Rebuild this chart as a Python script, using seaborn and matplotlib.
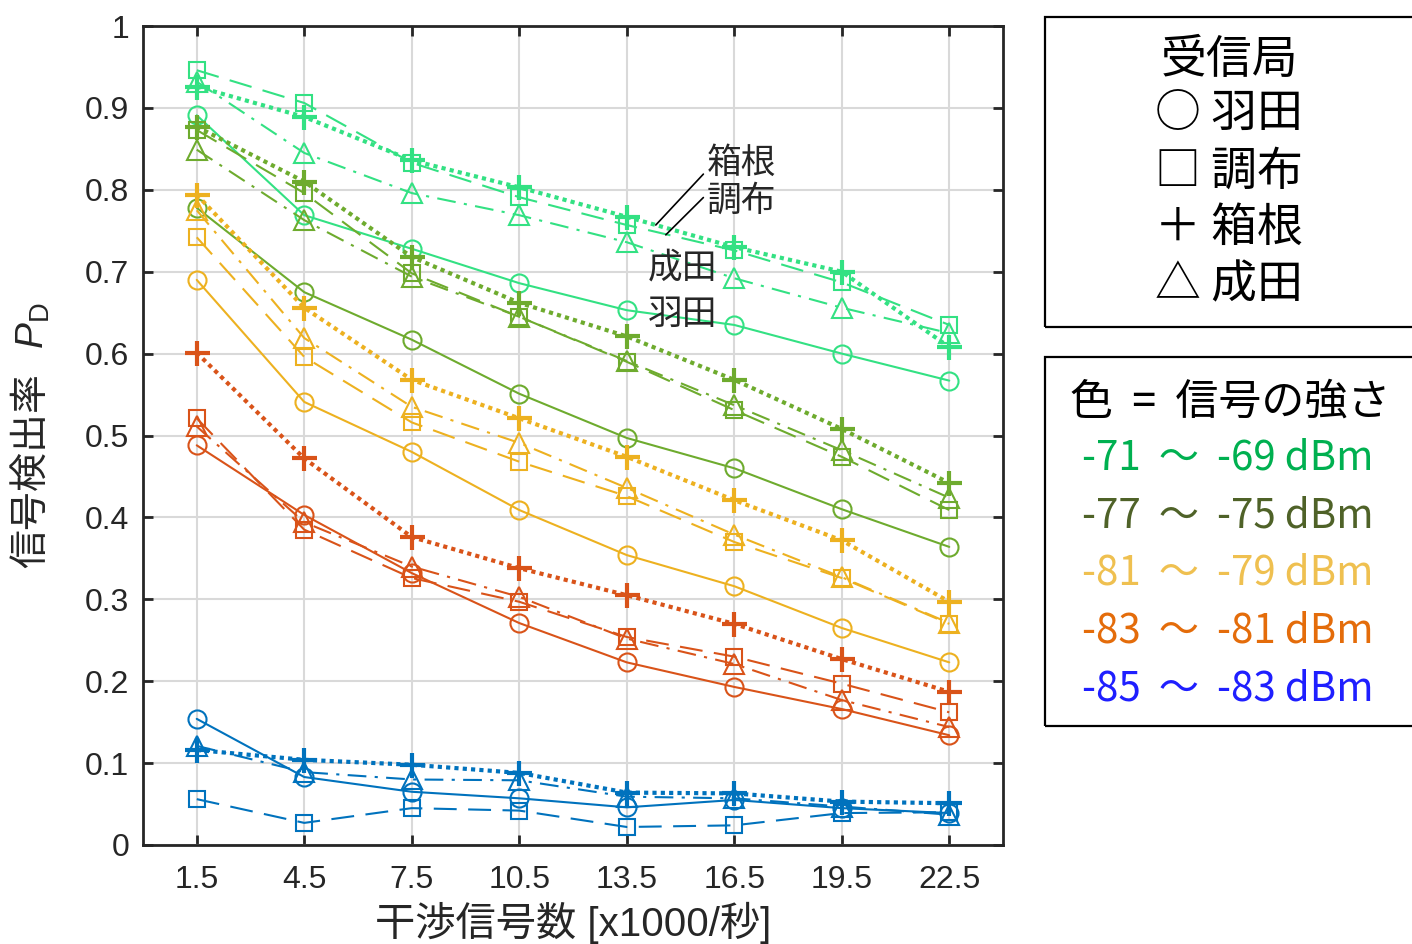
import numpy as np
import pandas as pd
import matplotlib
matplotlib.use("Agg")
import matplotlib.pyplot as plt
from matplotlib.patches import Rectangle
import seaborn as sns

# ---------------- data ----------------
x_vals = [1.5, 4.5, 7.5, 10.5, 13.5, 16.5, 19.5, 22.5]
x_ticklabels = ["1.5", "4.5", "7.5", "10.5", "13.5", "16.5", "19.5", "22.5"]
y_ticks = [0, 0.1, 0.2, 0.3, 0.4, 0.5, 0.6, 0.7, 0.8, 0.9, 1.0]
y_ticklabels = ["0", "0.1", "0.2", "0.3", "0.4", "0.5", "0.6", "0.7", "0.8", "0.9", "1"]

stations = ["羽田", "調布", "箱根", "成田"]
levels = ["-71 〜 -69 dBm", "-77 〜 -75 dBm", "-81 〜 -79 dBm", "-83 〜 -81 dBm", "-85 〜 -83 dBm"]

# level -71..-69
g71_haneda = [0.891, 0.769, 0.728, 0.686, 0.653, 0.635, 0.600, 0.567]
g71_chofu = [0.946, 0.906, 0.833, 0.791, 0.757, 0.726, 0.687, 0.635]
g71_hakone = [0.926, 0.889, 0.836, 0.803, 0.767, 0.730, 0.700, 0.608]
g71_narita = [0.932, 0.845, 0.796, 0.769, 0.736, 0.692, 0.656, 0.625]
# level -77..-75
g77_haneda = [0.778, 0.675, 0.617, 0.551, 0.497, 0.460, 0.410, 0.364]
g77_chofu = [0.873, 0.796, 0.698, 0.645, 0.590, 0.531, 0.474, 0.409]
g77_hakone = [0.877, 0.810, 0.718, 0.662, 0.621, 0.568, 0.508, 0.442]
g77_narita = [0.849, 0.763, 0.694, 0.645, 0.591, 0.537, 0.482, 0.424]
# level -81..-79
g81_haneda = [0.690, 0.541, 0.480, 0.409, 0.354, 0.316, 0.265, 0.223]
g81_chofu = [0.742, 0.596, 0.516, 0.468, 0.426, 0.370, 0.326, 0.270]
g81_hakone = [0.794, 0.656, 0.568, 0.521, 0.474, 0.421, 0.372, 0.297]
g81_narita = [0.775, 0.619, 0.535, 0.491, 0.436, 0.379, 0.327, 0.271]
# level -83..-81
g83_haneda = [0.488, 0.403, 0.332, 0.271, 0.223, 0.193, 0.166, 0.134]
g83_chofu = [0.521, 0.385, 0.326, 0.297, 0.254, 0.230, 0.197, 0.162]
g83_hakone = [0.601, 0.472, 0.376, 0.338, 0.305, 0.270, 0.227, 0.187]
g83_narita = [0.511, 0.394, 0.340, 0.303, 0.252, 0.221, 0.177, 0.144]
# level -85..-83
g85_haneda = [0.154, 0.083, 0.065, 0.057, 0.046, 0.055, 0.045, 0.039]
g85_chofu = [0.056, 0.027, 0.045, 0.042, 0.022, 0.024, 0.039, 0.040]
g85_hakone = [0.116, 0.104, 0.098, 0.088, 0.064, 0.063, 0.053, 0.051]
g85_narita = [0.121, 0.089, 0.080, 0.079, 0.059, 0.057, 0.047, 0.037]

series = {
    levels[0]: [g71_haneda, g71_chofu, g71_hakone, g71_narita],
    levels[1]: [g77_haneda, g77_chofu, g77_hakone, g77_narita],
    levels[2]: [g81_haneda, g81_chofu, g81_hakone, g81_narita],
    levels[3]: [g83_haneda, g83_chofu, g83_hakone, g83_narita],
    levels[4]: [g85_haneda, g85_chofu, g85_hakone, g85_narita],
}

rows = []
for lev, vals in series.items():
    for st, ys in zip(stations, vals):
        for xv, yv in zip(x_vals, ys):
            rows.append({"level": lev, "station": st, "x": xv, "y": yv})
df = pd.DataFrame(rows)

# ---------------- styles ----------------
line_colors = {
    levels[0]: "#33e183",
    levels[1]: "#6eab2e",
    levels[2]: "#edb120",
    levels[3]: "#d95319",
    levels[4]: "#0072bd",
}
legend_colors = ["#00b050", "#4f6228", "#efc050", "#e46c0a", "#1f1fff"]
st_marker = {"羽田": "o", "調布": "s", "箱根": "+", "成田": "^"}
st_ls = {"羽田": "-", "調布": (0, (11, 5.5)), "箱根": (0, (1, 1)), "成田": (0, (9, 4, 1.5, 4))}
st_lw = {"羽田": 1.5, "調布": 1.5, "箱根": 3.0, "成田": 1.5}
st_ms = {"羽田": 13, "調布": 12, "箱根": 18, "成田": 14}
st_mew = {"羽田": 1.5, "調布": 1.5, "箱根": 3.0, "成田": 1.5}

sns.set_theme(style="ticks")
plt.rcParams["font.family"] = ["Liberation Sans", "Noto Sans CJK JP", "DejaVu Sans"]
plt.rcParams["mathtext.fontset"] = "custom"
plt.rcParams["mathtext.rm"] = "Liberation Sans"
plt.rcParams["mathtext.it"] = "Liberation Sans:italic"

fig = plt.figure(figsize=(14.12, 9.44), dpi=100)
ax = fig.add_axes([143 / 1412, 1 - 845 / 944, 860 / 1412, 819 / 944])

for lev in levels:
    for st in stations:
        sub = df[(df["level"] == lev) & (df["station"] == st)]
        c = line_colors[lev]
        sns.lineplot(data=sub, x="x", y="y", ax=ax, color=c,
                     marker=st_marker[st], linestyle=st_ls[st], linewidth=st_lw[st],
                     markersize=st_ms[st], markeredgewidth=st_mew[st],
                     markeredgecolor=c, markerfacecolor="none",
                     errorbar=None, sort=True, legend=False)

ax.set_xlim(0, 24)
ax.set_ylim(0, 1)
ax.set_xticks(x_vals)
ax.set_xticklabels(x_ticklabels)
ax.set_yticks(y_ticks)
ax.set_yticklabels(y_ticklabels)
ax.grid(True, color="#d9d9d9", linewidth=1.5)
ax.set_axisbelow(True)
for sp in ax.spines.values():
    sp.set_visible(True)
    sp.set_linewidth(2.0)
    sp.set_color("#262626")
ax.tick_params(axis="both", direction="in", length=7, width=2.0, color="#262626",
               labelsize=23, labelcolor="#262626", top=True, right=True)
ax.tick_params(axis="x", pad=14.5)
ax.tick_params(axis="y", pad=10)

ax.set_xlabel("干渉信号数 [x1000/秒]", fontsize=29, color="#262626", labelpad=5,
              family=["Liberation Sans", "Noto Sans CJK JP"])
ax.set_ylabel("信号検出率   $P_{\\mathrm{D}}$", fontsize=28, color="#262626",
              family=["Noto Sans CJK JP", "Liberation Sans"])
ax.yaxis.set_label_coords(-0.105, 0.5)

# annotations inside the plot
cjk = ["Noto Sans CJK JP", "DejaVu Sans"]
ax.annotate("箱根", xy=(14.31, 0.757), xytext=(15.73, 0.832), fontsize=25, family=cjk,
            ha="left", va="center", arrowprops=dict(arrowstyle="-", color="black", lw=1.2,
                                                   shrinkA=0, shrinkB=0, relpos=(0, 0.3)))
ax.annotate("調布", xy=(14.59, 0.745), xytext=(15.73, 0.786), fontsize=25, family=cjk,
            ha="left", va="center", arrowprops=dict(arrowstyle="-", color="black", lw=1.2,
                                                   shrinkA=0, shrinkB=0, relpos=(0, 0.7)))
ax.text(14.1, 0.705, "成田", fontsize=25, family=cjk, ha="left", va="center")
ax.text(14.1, 0.648, "羽田", fontsize=25, family=cjk, ha="left", va="center")

# legend boxes (figure level)
W, H = 1412.0, 944.0
fig.patches.append(Rectangle((1045 / W, 1 - 327 / H), 0.3, (327 - 17) / H, transform=fig.transFigure,
                             fill=False, edgecolor="black", linewidth=1.6))
fig.patches.append(Rectangle((1045 / W, 1 - 726 / H), 0.3, (726 - 357) / H, transform=fig.transFigure,
                             fill=False, edgecolor="black", linewidth=1.6))

box1_lines = ["受信局", "○ 羽田", "□ 調布", "＋ 箱根", "△ 成田"]
box1_y = [60, 114, 171, 228, 285]
for t, yy in zip(box1_lines, box1_y):
    fig.text(1229 / W, 1 - yy / H, t, fontsize=33, family=cjk, ha="center", va="center", color="black")

fig.text(1230 / W, 1 - 403 / H, "色  =  信号の強さ", fontsize=31, family=cjk, ha="center", va="center",
         color="black")
box2_y = [458, 516, 573, 631, 689]
for lev, col, yy in zip(levels, legend_colors, box2_y):
    fig.text(1228 / W, 1 - yy / H, lev.replace(" 〜 ", "  〜  "), fontsize=29, family=cjk,
             ha="center", va="center", color=col)

fig.savefig("out.png", dpi=100)
